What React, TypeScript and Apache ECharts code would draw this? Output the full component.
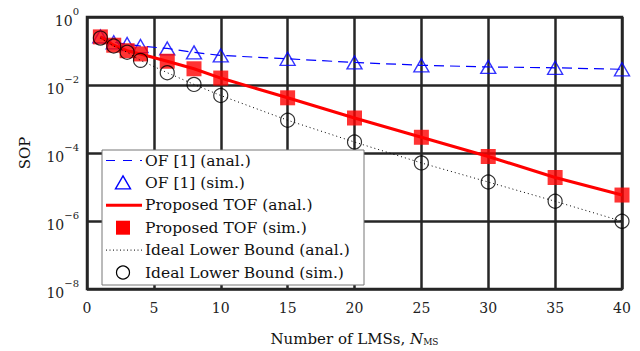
import React, { useEffect, useRef } from "react";
import * as echarts from "echarts";

const nms = [1, 2, 3, 4, 6, 8, 10, 15, 20, 25, 30, 35, 40];
const ofAnal = [0.27, 0.18, 0.16, 0.14, 0.119, 0.091, 0.074, 0.059, 0.046, 0.038, 0.034, 0.032, 0.029];
const ofSim = [0.27, 0.18, 0.16, 0.14, 0.119, 0.091, 0.074, 0.059, 0.046, 0.038, 0.034, 0.032, 0.029];
const tofAnal = [0.26, 0.148, 0.102, 0.082, 0.05, 0.03, 0.016, 0.0042, 0.00107, 2.9e-4, 7.9e-5, 1.9e-5, 5.8e-6];
const tofSim = [0.26, 0.148, 0.102, 0.082, 0.05, 0.03, 0.016, 0.0042, 0.00107, 2.9e-4, 7.9e-5, 1.9e-5, 5.8e-6];
const idealAnal = [0.24, 0.14, 0.092, 0.053, 0.023, 0.0104, 0.0049, 9.2e-4, 2.1e-4, 5.1e-5, 1.4e-5, 3.8e-6, 9.8e-7];
const idealSim = [0.24, 0.14, 0.092, 0.053, 0.023, 0.0104, 0.0049, 9.2e-4, 2.1e-4, 5.1e-5, 1.4e-5, 3.8e-6, 9.8e-7];
const legendNames = [
  "OF [1] (anal.)",
  "OF [1] (sim.)",
  "Proposed TOF (anal.)",
  "Proposed TOF (sim.)",
  "Ideal Lower Bound (anal.)",
  "Ideal Lower Bound (sim.)",
];

const FONT = "'DejaVu Serif', serif";
const pair = (ys: number[]) => nms.map((x, i) => [x, ys[i]]);

const BLUE = "#0000ff";
const RED = "#ff0000";

function legendGraphics() {
  const left = 102;
  const top = 150;
  const w = 262;
  const h = 135;
  const row0 = 160.5;
  const pitch = 22.4;
  const cx = 123;
  const Z = 100;
  const children: any[] = [
    {
      type: "rect",
      z: Z,
      shape: { x: left, y: top, width: w, height: h },
      style: { fill: "#fff", stroke: "#777", lineWidth: 1 },
    },
  ];
  const ys = legendNames.map((_, i) => row0 + i * pitch);
  children.push({
    type: "line",
    z: Z + 1,
    shape: { x1: 106, y1: ys[0], x2: 142, y2: ys[0] },
    style: { stroke: BLUE, lineWidth: 1.2, lineDash: [9, 8] },
  });
  children.push({
    type: "polygon",
    z: Z + 1,
    shape: { points: [[cx, ys[1] - 7], [cx + 7.5, ys[1] + 6], [cx - 7.5, ys[1] + 6]] },
    style: { fill: "none", stroke: BLUE, lineWidth: 1.4 },
  });
  children.push({
    type: "line",
    z: Z + 1,
    shape: { x1: 106, y1: ys[2], x2: 142, y2: ys[2] },
    style: { stroke: RED, lineWidth: 3 },
  });
  children.push({
    type: "rect",
    z: Z + 1,
    shape: { x: cx - 7, y: ys[3] - 7, width: 14, height: 14 },
    style: { fill: RED },
  });
  children.push({
    type: "line",
    z: Z + 1,
    shape: { x1: 106, y1: ys[4], x2: 142, y2: ys[4] },
    style: { stroke: "#000", lineWidth: 1, lineDash: [1, 2.5] },
  });
  children.push({
    type: "circle",
    z: Z + 1,
    shape: { cx, cy: ys[5], r: 6.5 },
    style: { fill: "none", stroke: "#000", lineWidth: 1.2 },
  });
  legendNames.forEach((name, i) => {
    children.push({
      type: "text",
      z: Z + 1,
      style: {
        text: name,
        x: 145,
        y: ys[i],
        verticalAlign: "middle",
        fontFamily: FONT,
        fontSize: 15.5,
        fill: "#111",
      },
    });
  });
  return children;
}

export default function App() {
  const ref = useRef<HTMLDivElement>(null);
  useEffect(() => {
    if (!ref.current) return;
    const chart = echarts.init(ref.current, null, { renderer: "svg" });
    const gridColor = "#262626";
    chart.setOption({
      animation: false,
      textStyle: { fontFamily: FONT },
      grid: {
        left: 87,
        right: 18,
        top: 17,
        bottom: 52,
        show: true,
        borderColor: gridColor,
        borderWidth: 2.5,
        backgroundColor: "transparent",
      },
      graphic: legendGraphics(),
      xAxis: {
        type: "value",
        min: 0,
        max: 40,
        interval: 5,
        axisLine: { show: false },
        axisTick: { show: false },
        splitLine: { show: true, lineStyle: { color: gridColor, width: 2.5 } },
        axisLabel: { fontFamily: FONT, fontSize: 14, color: "#222", margin: 12 },
        name: "{n|Number of LMSs, }{i|N}{s|MS}",
        nameLocation: "middle",
        nameGap: 37,
        nameTextStyle: {
          rich: {
            n: { fontFamily: FONT, fontSize: 15, color: "#111", lineHeight: 20, verticalAlign: "bottom" },
            i: { fontFamily: FONT, fontStyle: "italic", fontSize: 15, color: "#111", lineHeight: 20, verticalAlign: "bottom" },
            s: { fontFamily: FONT, fontSize: 9, color: "#111", lineHeight: 14, verticalAlign: "bottom" },
          },
        },
      },
      yAxis: {
        type: "log",
        logBase: 10,
        min: 1e-8,
        max: 1,
        interval: 2,
        axisLine: { show: false },
        axisTick: { show: false },
        splitLine: { show: true, lineStyle: { color: gridColor, width: 2.5 } },
        axisLabel: {
          margin: 8,
          formatter: (v: number) => {
            const e = Math.round(Math.log10(v));
            return `{b|10}{s|${e === 0 ? "0" : "\u2212" + -e}}`;
          },
          rich: {
            b: { fontFamily: FONT, fontSize: 14, color: "#222", lineHeight: 22, verticalAlign: "bottom" },
            s: { fontFamily: FONT, fontSize: 10, color: "#222", lineHeight: 22, verticalAlign: "top" },
          },
        },
        name: "SOP",
        nameLocation: "middle",
        nameGap: 55,
        nameTextStyle: { fontFamily: FONT, fontSize: 15, color: "#111" },
      },
      series: [
        {
          name: legendNames[0],
          type: "line",
          data: pair(ofAnal),
          symbol: "none",
          lineStyle: { color: BLUE, width: 1.2, type: [10, 6] },
          z: 2,
        },
        {
          name: legendNames[1],
          type: "scatter",
          data: pair(ofSim),
          symbol: "triangle",
          symbolSize: [15, 13],
          itemStyle: { color: "transparent", borderColor: BLUE, borderWidth: 1.4 },
          z: 3,
        },
        {
          name: legendNames[2],
          type: "line",
          data: pair(tofAnal),
          symbol: "none",
          lineStyle: { color: RED, width: 3 },
          z: 4,
        },
        {
          name: legendNames[3],
          type: "scatter",
          data: pair(tofSim),
          symbol: "rect",
          symbolSize: 15,
          itemStyle: { color: RED, borderWidth: 0 },
          z: 5,
        },
        {
          name: legendNames[4],
          type: "line",
          data: pair(idealAnal),
          symbol: "none",
          lineStyle: { color: "#000", width: 1, type: [1, 3] },
          z: 6,
        },
        {
          name: legendNames[5],
          type: "scatter",
          data: pair(idealSim),
          symbol: "circle",
          symbolSize: 14,
          itemStyle: { color: "transparent", borderColor: "#000", borderWidth: 1.2 },
          z: 7,
        },
      ],
    });
    return () => chart.dispose();
  }, []);
  return (
    <div
      ref={ref}
      style={{ position: "fixed", left: 0, top: 0, width: 640, height: 351, background: "#fff" }}
    />
  );
}
